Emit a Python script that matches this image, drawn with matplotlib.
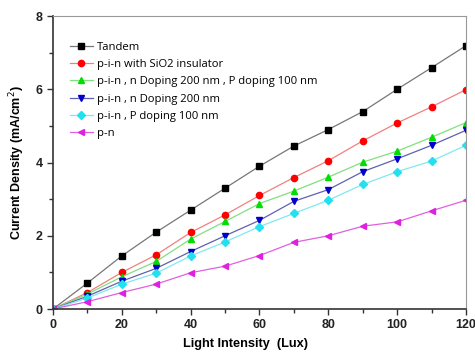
import matplotlib
matplotlib.use("Agg")
import matplotlib.pyplot as plt
from matplotlib.ticker import MultipleLocator

# light intensity (Lux)
lux = [0, 10, 20, 30, 40, 50, 60, 70, 80, 90, 100, 110, 120]

# current density (mA/cm2)
tandem = [0, 0.71, 1.45, 2.1, 2.7, 3.3, 3.9, 4.45, 4.9, 5.39, 6.0, 6.59, 7.19]
pin_sio2 = [0, 0.45, 1.0, 1.48, 2.09, 2.57, 3.1, 3.59, 4.05, 4.59, 5.08, 5.52, 5.99]
pin_np = [0, 0.41, 0.88, 1.3, 1.91, 2.39, 2.88, 3.22, 3.6, 4.01, 4.31, 4.69, 5.09]
pin_n = [0, 0.35, 0.76, 1.11, 1.57, 2.0, 2.42, 2.94, 3.26, 3.75, 4.1, 4.47, 4.88]
pin_p = [0, 0.3, 0.68, 0.98, 1.45, 1.83, 2.25, 2.61, 2.97, 3.4, 3.75, 4.04, 4.47]
pn = [0, 0.2, 0.45, 0.68, 0.99, 1.17, 1.46, 1.82, 2.0, 2.26, 2.38, 2.68, 2.97]

labels = ["Tandem", "p-i-n with SiO2 insulator",
          "p-i-n , n Doping 200 nm , P doping 100 nm",
          "p-i-n , n Doping 200 nm", "p-i-n , P doping 100 nm", "p-n"]

fig = plt.figure(figsize=(4.75, 3.56), dpi=100)
ax = fig.add_axes([0.1116, 0.132, 0.8694, 0.823])

series = [tandem, pin_sio2, pin_np, pin_n, pin_p, pn]
markers = ["s", "o", "^", "v", "D", "<"]
mcolors = ["black", "red", "#00dd00", "#0000cc", "#22e0f0", "#e020e0"]
lcolors = ["#777777", "#f08080", "#80e080", "#6060b0", "#80e8f0", "#e060e0"]
msizes = [4, 4.5, 5, 5, 4, 5]

for ys, lab, m, mc, lc, ms in zip(series, labels, markers, mcolors, lcolors, msizes):
    ax.plot(lux, ys, color=lc, lw=0.9, marker=m, markersize=ms,
            markerfacecolor=mc, markeredgecolor=mc, label=lab)

ax.set_xlim(0, 120)
ax.set_ylim(0, 8)
ax.xaxis.set_major_locator(MultipleLocator(20))
ax.xaxis.set_minor_locator(MultipleLocator(10))
ax.yaxis.set_major_locator(MultipleLocator(2))
ax.yaxis.set_minor_locator(MultipleLocator(1))
ax.tick_params(which="both", direction="out", colors="#333333", width=1)
ax.tick_params(which="major", length=4)
ax.tick_params(which="minor", length=3)
ax.tick_params(top=False, right=False)
for t in ax.get_xticklabels() + ax.get_yticklabels():
    t.set_fontfamily("Liberation Sans")
    t.set_fontweight("bold")
    t.set_fontsize(9)
    t.set_color("#222222")

ax.spines["left"].set_color("#333333")
ax.spines["bottom"].set_color("#333333")
ax.spines["left"].set_linewidth(1.2)
ax.spines["bottom"].set_linewidth(1.2)
ax.spines["top"].set_color("#999999")
ax.spines["right"].set_color("#999999")

ax.set_xlabel("Light Intensity  (Lux)", fontfamily="Liberation Sans",
              fontweight="bold", fontsize=9.2)
ax.xaxis.set_label_coords(0.466, -0.1)
ax.set_ylabel("Current Density (mA/cm$^2$)", fontfamily="Liberation Sans",
              fontweight="bold", fontsize=9)
ax.yaxis.set_label_coords(-0.063, 0.5)

leg = ax.legend(loc="upper left", bbox_to_anchor=(0.025, 0.935), frameon=False,
                prop={"family": "Open Sans", "size": 8.1},
                labelspacing=0.56, handlelength=2.0, handletextpad=0.4,
                borderaxespad=0.2)

fig.savefig("out.png", dpi=100)
